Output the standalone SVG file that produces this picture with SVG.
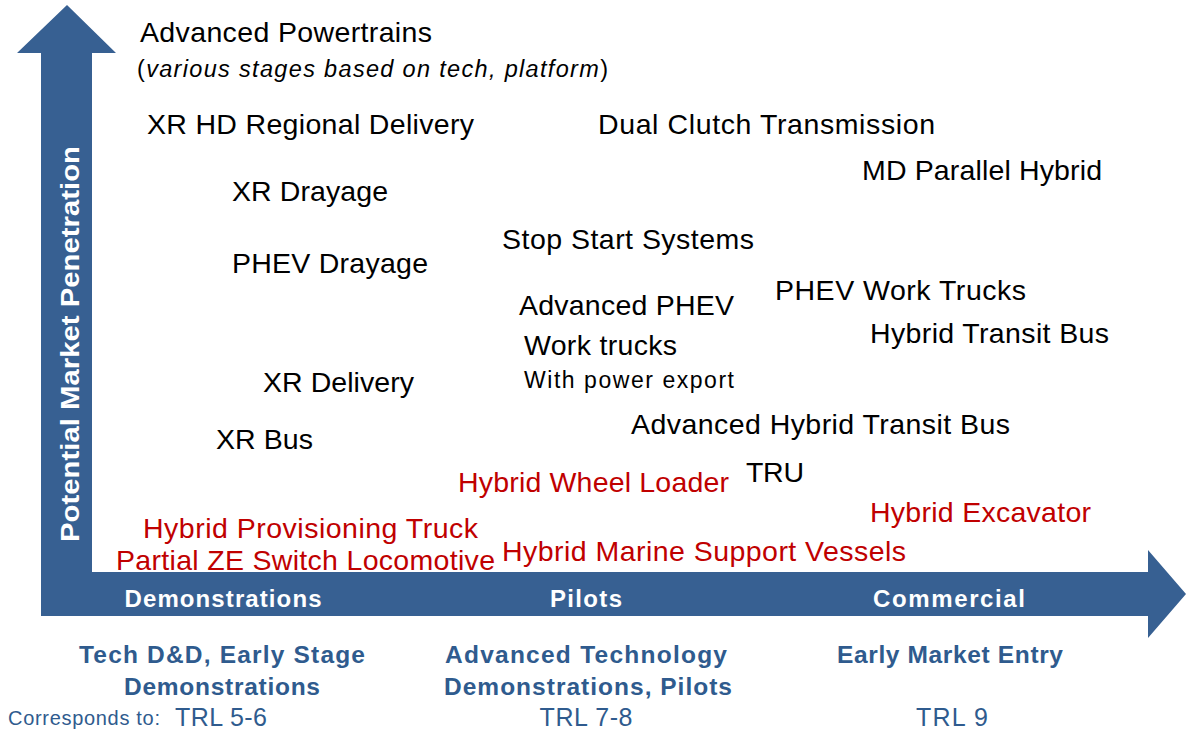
<svg xmlns="http://www.w3.org/2000/svg" width="1186" height="732" viewBox="0 0 1186 732">
<style>
.t{font-family:"Liberation Sans",Arial,sans-serif;font-size:28.5px;fill:#000}
.r{fill:#C00000}
.s{font-size:23.5px}
.w{font-family:"Liberation Sans",Arial,sans-serif;font-weight:bold;font-size:24px;fill:#fff;text-anchor:middle}
.b{font-family:"Liberation Sans",Arial,sans-serif;font-weight:bold;font-size:24.5px;fill:#2F5B8E;text-anchor:middle}
.n{font-family:"Liberation Sans",Arial,sans-serif;font-size:25px;fill:#2F5B8E}
.axis{fill:#376092}
</style>
<rect width="1186" height="732" fill="#fff"/>
<g id="axes">
<path class="axis" d="M67,5 L116,53 L92,53 L92,572 L1148,572 L1148,550 L1186,594 L1148,638 L1148,616 L41,616 L41,53 L17,53 Z"/>
<text class="w" transform="translate(79,344) rotate(-90)" style="font-size:26px" textLength="396" lengthAdjust="spacingAndGlyphs">Potential Market Penetration</text>
<text class="w" x="223" y="607" textLength="197">Demonstrations</text>
<text class="w" x="586" y="607" textLength="72">Pilots</text>
<text class="w" x="949" y="607" textLength="152">Commercial</text>
</g>
<g id="stage-labels">
<text class="b" x="222" y="663" textLength="286">Tech D&amp;D, Early Stage</text>
<text class="b" x="222" y="695" textLength="196">Demonstrations</text>
<text class="b" x="586" y="663" textLength="282">Advanced Technology</text>
<text class="b" x="588" y="695" textLength="288">Demonstrations,  Pilots</text>
<text class="b" x="950" y="663" textLength="226">Early Market Entry</text>
<text class="n" x="8" y="725" style="font-size:20px" textLength="152">Corresponds to:</text>
<text class="n" x="175" y="726" textLength="92">TRL  5-6</text>
<text class="n" x="586" y="726" text-anchor="middle" textLength="93">TRL  7-8</text>
<text class="n" x="952" y="726" text-anchor="middle" textLength="72">TRL  9</text>
</g>
<g id="header">
<text class="t" x="140" y="42" textLength="292">Advanced Powertrains</text>
<text class="t s" x="137" y="77" textLength="471">(<tspan font-style="italic">various  stages based on tech, platform</tspan>)</text>
</g>
<g id="xr-hd-regional"><text class="t" x="147" y="134" textLength="327">XR HD Regional Delivery</text></g>
<g id="dual-clutch"><text class="t" x="598" y="134" textLength="337">Dual Clutch Transmission</text></g>
<g id="md-parallel"><text class="t" x="862" y="180" textLength="240">MD Parallel Hybrid</text></g>
<g id="xr-drayage"><text class="t" x="232" y="201" textLength="156">XR Drayage</text></g>
<g id="stop-start"><text class="t" x="502" y="249" textLength="252">Stop Start Systems</text></g>
<g id="phev-drayage"><text class="t" x="232" y="273" textLength="196">PHEV Drayage</text></g>
<g id="phev-work-trucks"><text class="t" x="775" y="300" textLength="251">PHEV Work Trucks</text></g>
<g id="advanced-phev">
<text class="t" x="519" y="315" textLength="215">Advanced PHEV</text>
<text class="t" x="524" y="355" textLength="153">Work trucks</text>
<text class="t" x="524" y="388" style="font-size:23px" textLength="210">With power  export</text>
</g>
<g id="hybrid-transit-bus"><text class="t" x="870" y="343" textLength="239">Hybrid Transit Bus</text></g>
<g id="xr-delivery"><text class="t" x="263" y="392" textLength="151">XR Delivery</text></g>
<g id="adv-hybrid-transit"><text class="t" x="631" y="434" textLength="379">Advanced Hybrid Transit Bus</text></g>
<g id="xr-bus"><text class="t" x="216" y="449" textLength="97">XR Bus</text></g>
<g id="tru"><text class="t" x="746" y="482" textLength="58">TRU</text></g>
<g id="hybrid-wheel-loader"><text class="t r" x="458" y="492" textLength="271">Hybrid Wheel Loader</text></g>
<g id="hybrid-excavator"><text class="t r" x="870" y="522" textLength="221">Hybrid Excavator</text></g>
<g id="hybrid-provisioning"><text class="t r" x="143" y="538" textLength="335">Hybrid Provisioning  Truck</text></g>
<g id="partial-ze"><text class="t r" x="116" y="570" textLength="379">Partial ZE Switch Locomotive</text></g>
<g id="hybrid-marine"><text class="t r" x="502" y="561" textLength="404">Hybrid Marine  Support Vessels</text></g>
</svg>
